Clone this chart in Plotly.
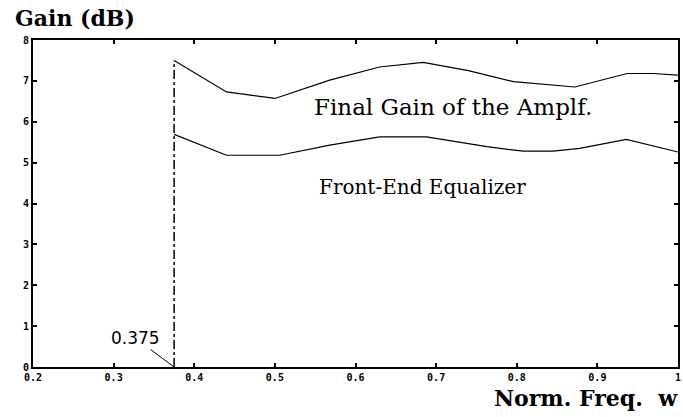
import plotly.graph_objects as go

freq_final = [0.375, 0.44, 0.50, 0.568, 0.63, 0.684, 0.74, 0.796, 0.872, 0.937, 0.969, 1.0]
gain_final = [7.50, 6.73, 6.57, 7.02, 7.34, 7.45, 7.25, 6.98, 6.85, 7.18, 7.18, 7.14]

freq_eq = [0.375, 0.44, 0.506, 0.568, 0.63, 0.688, 0.763, 0.808, 0.845, 0.878, 0.936, 1.0]
gain_eq = [5.69, 5.18, 5.18, 5.43, 5.63, 5.63, 5.39, 5.28, 5.28, 5.35, 5.57, 5.26]

cutoff_x = [0.375, 0.375]
cutoff_y = [0, 7.5]

x_ticks = [0.2, 0.3, 0.4, 0.5, 0.6, 0.7, 0.8, 0.9, 1.0]
x_tick_labels = ["0.2", "0.3", "0.4", "0.5", "0.6", "0.7", "0.8", "0.9", "1"]
y_ticks = [0, 1, 2, 3, 4, 5, 6, 7, 8]

fig = go.Figure()
fig.add_trace(go.Scatter(x=freq_final, y=gain_final, mode="lines",
                         line=dict(color="black", width=1.2), showlegend=False))
fig.add_trace(go.Scatter(x=freq_eq, y=gain_eq, mode="lines",
                         line=dict(color="black", width=1.2), showlegend=False))
fig.add_trace(go.Scatter(x=cutoff_x, y=cutoff_y, mode="lines",
                         line=dict(color="black", width=1.5, dash="dashdot"), showlegend=False))

serif = "DejaVu Serif"
fig.add_annotation(x=0.375, y=0, xref="x", yref="y", text="0.375", showarrow=True,
                   arrowhead=0, arrowwidth=1, arrowcolor="black", ax=-39, ay=-29,
                   font=dict(family="DejaVu Sans", size=17, color="black"),
                   xanchor="center", yanchor="middle", standoff=0)
fig.add_annotation(x=0.7205, y=6.37, xref="x", yref="y", text="Final Gain of the Amplf.",
                   showarrow=False, font=dict(family=serif, size=23, color="black"))
fig.add_annotation(x=0.683, y=4.4, xref="x", yref="y", text="Front-End Equalizer",
                   showarrow=False, font=dict(family=serif, size=20, color="black"))
fig.add_annotation(text="<b>Gain (dB)</b>", xref="paper", yref="paper", x=-0.031, y=1.113,
                   xanchor="left", yanchor="top", showarrow=False,
                   font=dict(family=serif, size=22, color="black"))
fig.add_annotation(text="<b>Norm. Freq.  w</b>", xref="paper", yref="paper", x=1.003, y=-0.05,
                   xanchor="right", yanchor="top", showarrow=False,
                   font=dict(family=serif, size=22, color="black"))

axis_common = dict(showline=True, linecolor="black", linewidth=2, mirror="ticks",
                   ticks="inside", ticklen=4, tickcolor="black", tickwidth=1.5,
                   showgrid=False, zeroline=False, automargin=False,
                   tickfont=dict(family="DejaVu Sans Mono", size=10, color="black", weight="bold"))
fig.update_xaxes(range=[0.2, 1.0], tickvals=x_ticks, ticktext=x_tick_labels, **axis_common)
fig.update_yaxes(range=[0, 8], tickvals=y_ticks, **axis_common)

fig.update_layout(width=683, height=417, margin=dict(l=33, r=5, t=40, b=50),
                  plot_bgcolor="white", paper_bgcolor="white")
fig.write_html("out.html", config={"displayModeBar": False},
               post_script="document.body.style.margin='0';document.body.style.overflow='hidden';")
